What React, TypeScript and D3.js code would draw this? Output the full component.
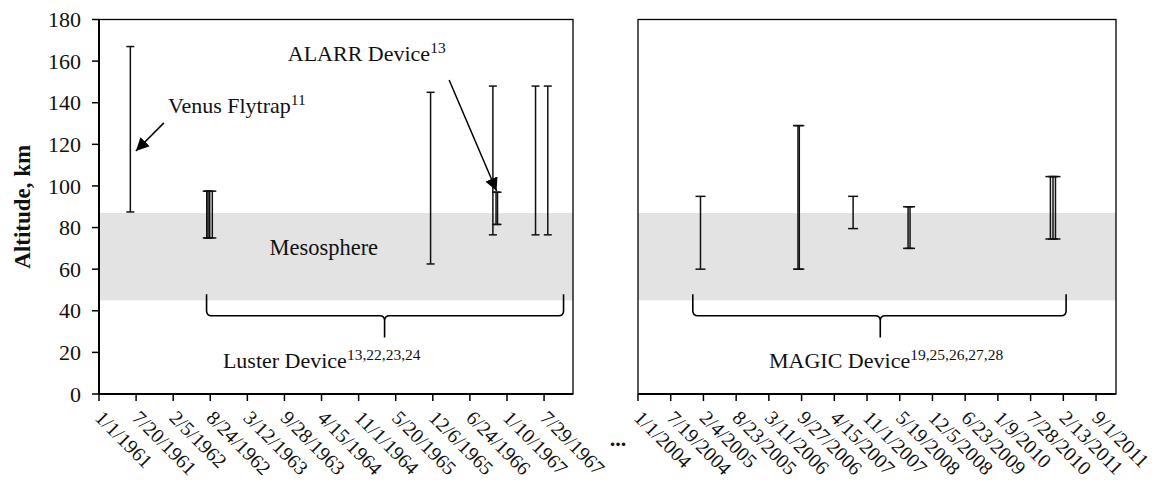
import * as d3 from 'd3'

// tick labels (date axis, 200-day major unit)
const leftTickLabels = ['1/1/1961', '7/20/1961', '2/5/1962', '8/24/1962', '3/12/1963', '9/28/1963', '4/15/1964', '11/1/1964', '5/20/1965', '12/6/1965', '6/24/1966', '1/10/1967', '7/29/1967']
const rightTickLabels = ['1/1/2004', '7/19/2004', '2/4/2005', '8/23/2005', '3/11/2006', '9/27/2006', '4/15/2007', '11/1/2007', '5/19/2008', '12/5/2008', '6/23/2009', '1/9/2010', '7/28/2010', '2/13/2011', '9/1/2011']
const yTicks = [0, 20, 40, 60, 80, 100, 120, 140, 160, 180]

// altitude ranges (km)
const venusDates = ['6/19/1961']
const venusLow = [87.5]
const venusHigh = [167]

const lusterDates = ['8/5/1962', '8/12/1962', '8/21/1962', '9/4/1962', '11/24/1965', '10/26/1966', '6/13/1967', '8/18/1967']
const lusterLow = [75, 75, 75, 75, 62.5, 76.5, 76.5, 76.5]
const lusterHigh = [97.5, 97.5, 97.5, 97.5, 145, 148, 148, 148]

const alarrDates = ['11/12/1966', '11/20/1966']
const alarrLow = [81.5, 81.5]
const alarrHigh = [97, 97]

const magicDates = ['1/17/2005', '9/5/2006', '9/13/2006', '8/8/2007', '7/9/2008', '7/21/2008', '11/26/2010', '12/12/2010', '12/27/2010']
const magicLow = [60, 60, 60, 79.5, 70, 70, 74.5, 74.5, 74.5]
const magicHigh = [95, 129, 129, 95, 90, 90, 104.5, 104.5, 104.5]

const mesosphere = [45, 87]

const parse = d3.utcParse('%m/%d/%Y')
const p = (s: string) => parse(s) as Date

const W = 1164
const H = 489
const top = 19.5
const bottom = 394
const FONT = "'Liberation Serif', 'Times New Roman', serif"

const y = d3.scaleLinear().domain([0, 180]).range([bottom, top])
const xLeft = d3.scaleUtc().domain([p('1/1/1961'), p('1/1/1968')]).range([99, 573])
const xRight = d3.scaleUtc().domain([p('1/1/2004'), p('1/1/2012')]).range([638, 1116])

type Scale = d3.ScaleTime<number, number>

function ErrorBars({ x, dates, low, high, cap }: { x: Scale; dates: string[]; low: number[]; high: number[]; cap: number }) {
  return (
    <g stroke="#111" strokeWidth={1.5} fill="none">
      {dates.map((d, i) => {
        const cx = x(p(d))
        return (
          <g key={i}>
            <line x1={cx} x2={cx} y1={y(high[i])} y2={y(low[i])} />
            <line x1={cx - cap} x2={cx + cap} y1={y(high[i])} y2={y(high[i])} />
            <line x1={cx - cap} x2={cx + cap} y1={y(low[i])} y2={y(low[i])} />
          </g>
        )
      })}
    </g>
  )
}

function brace(x1: number, x2: number, xc: number, yTop: number, yMid: number, yTip: number) {
  const r = 5
  const path = d3.path()
  path.moveTo(x1, yTop)
  path.lineTo(x1, yMid - r)
  path.quadraticCurveTo(x1, yMid, x1 + r, yMid)
  path.lineTo(xc - r, yMid)
  path.quadraticCurveTo(xc, yMid, xc, yMid + r)
  path.lineTo(xc, yTip)
  path.moveTo(xc, yMid + r)
  path.quadraticCurveTo(xc, yMid, xc + r, yMid)
  path.lineTo(x2 - r, yMid)
  path.quadraticCurveTo(x2, yMid, x2, yMid - r)
  path.lineTo(x2, yTop)
  return path.toString()
}

function Panel({ x, ticks, showY }: { x: Scale; ticks: string[]; showY: boolean }) {
  const [x0, x1] = x.range()
  return (
    <g>
      <rect x={x0} y={y(mesosphere[1])} width={x1 - x0} height={y(mesosphere[0]) - y(mesosphere[1])} fill="#e3e3e3" />
      <rect x={x0} y={top} width={x1 - x0} height={bottom - top} fill="none" stroke="#000" strokeWidth={1.3} />
      <line x1={x0} x2={x1} y1={bottom} y2={bottom} stroke="#000" strokeWidth={2} />
      {showY && <line x1={x0} x2={x0} y1={top} y2={bottom} stroke="#000" strokeWidth={2} />}
      {showY &&
        yTicks.map(t => (
          <g key={t}>
            <line x1={x0 - 7} x2={x0} y1={y(t)} y2={y(t)} stroke="#000" strokeWidth={1.5} />
            <text x={x0 - 18} y={y(t)} dy="0.35em" textAnchor="end" fontSize={22} fontFamily={FONT} fill="#111">
              {t}
            </text>
          </g>
        ))}
      {ticks.map(t => {
        const tx = x(p(t))
        return (
          <g key={t}>
            <line x1={tx} x2={tx} y1={bottom} y2={bottom + 7} stroke="#000" strokeWidth={1.5} />
            <text
              transform={`translate(${tx - 5},${bottom + 25}) rotate(45)`}
              fontSize={20}
              fontFamily={FONT}
              fill="#111"
            >
              {t}
            </text>
          </g>
        )
      })}
    </g>
  )
}

function Label({ tx, ty, text, sup, size = 22 }: { tx: number; ty: number; text: string; sup: string; size?: number }) {
  return (
    <text x={tx} y={ty} fontSize={size} fontFamily={FONT} fill="#111">
      {text}
      <tspan fontSize={15.5} dy={-8}>
        {sup}
      </tspan>
    </text>
  )
}

export default function App() {
  return (
    <svg width={W} height={H} style={{ position: 'absolute', left: 0, top: 0, background: '#fff' }}>
      <Panel x={xLeft} ticks={leftTickLabels} showY={true} />
      <Panel x={xRight} ticks={rightTickLabels} showY={false} />

      <ErrorBars x={xLeft} dates={venusDates} low={venusLow} high={venusHigh} cap={4} />
      <ErrorBars x={xLeft} dates={lusterDates} low={lusterLow} high={lusterHigh} cap={4} />
      <ErrorBars x={xLeft} dates={alarrDates} low={alarrLow} high={alarrHigh} cap={4} />
      <ErrorBars x={xRight} dates={magicDates} low={magicLow} high={magicHigh} cap={5} />

      <defs>
        <marker id="arr" viewBox="0 0 10 10" refX={10} refY={5} markerWidth={13} markerHeight={13} markerUnits="userSpaceOnUse" orient="auto">
          <path d="M0,0 L10,5 L0,10 z" fill="#000" />
        </marker>
      </defs>

      {/* annotations */}
      <Label tx={xLeft(p('1/8/1962'))} ty={y(135)} text="Venus Flytrap" sup="11" />
      <line x1={xLeft(p('12/17/1961'))} y1={y(130.3)} x2={xLeft(p('7/19/1961'))} y2={y(116.8)} stroke="#000" strokeWidth={1.5} markerEnd="url(#arr)" />
      <Label tx={xLeft(p('10/16/1963'))} ty={y(160)} text="ALARR Device" sup="13" />
      <line x1={xLeft(p('3/4/1966'))} y1={y(150.9)} x2={xLeft(p('11/15/1966'))} y2={y(97.6)} stroke="#000" strokeWidth={1.5} markerEnd="url(#arr)" />
      <text x={xLeft(p('4/27/1964'))} y={y(66.8)} textAnchor="middle" fontSize={22.5} fontFamily={FONT} fill="#111">
        Mesosphere
      </text>

      <path
        d={brace(xLeft(p('8/4/1962')), xLeft(p('11/11/1967')), xLeft(p('3/21/1965')), y(47.9), y(37.6), y(27.2))}
        fill="none"
        stroke="#000"
        strokeWidth={1.6}
      />
      <Label tx={xLeft(p('10/31/1962'))} ty={y(12.5)} text="Luster Device" sup="13,22,23,24" />

      <path
        d={brace(xRight(p('12/1/2004')), xRight(p('3/2/2011')), xRight(p('1/21/2008')), y(47.9), y(37.6), y(27.2))}
        fill="none"
        stroke="#000"
        strokeWidth={1.6}
      />
      <Label tx={xRight(p('3/12/2006'))} ty={y(12.5)} text="MAGIC Device" sup="19,25,26,27,28" />

      <text x={618} y={446} textAnchor="middle" fontSize={22} fontWeight="bold" fontFamily={FONT} fill="#111">
        ...
      </text>

      <text
        transform={`translate(30,${(top + bottom) / 2}) rotate(-90)`}
        textAnchor="middle"
        fontSize={23}
        fontWeight="bold"
        fontFamily={FONT}
        fill="#111"
      >
        Altitude, km
      </text>
    </svg>
  )
}
